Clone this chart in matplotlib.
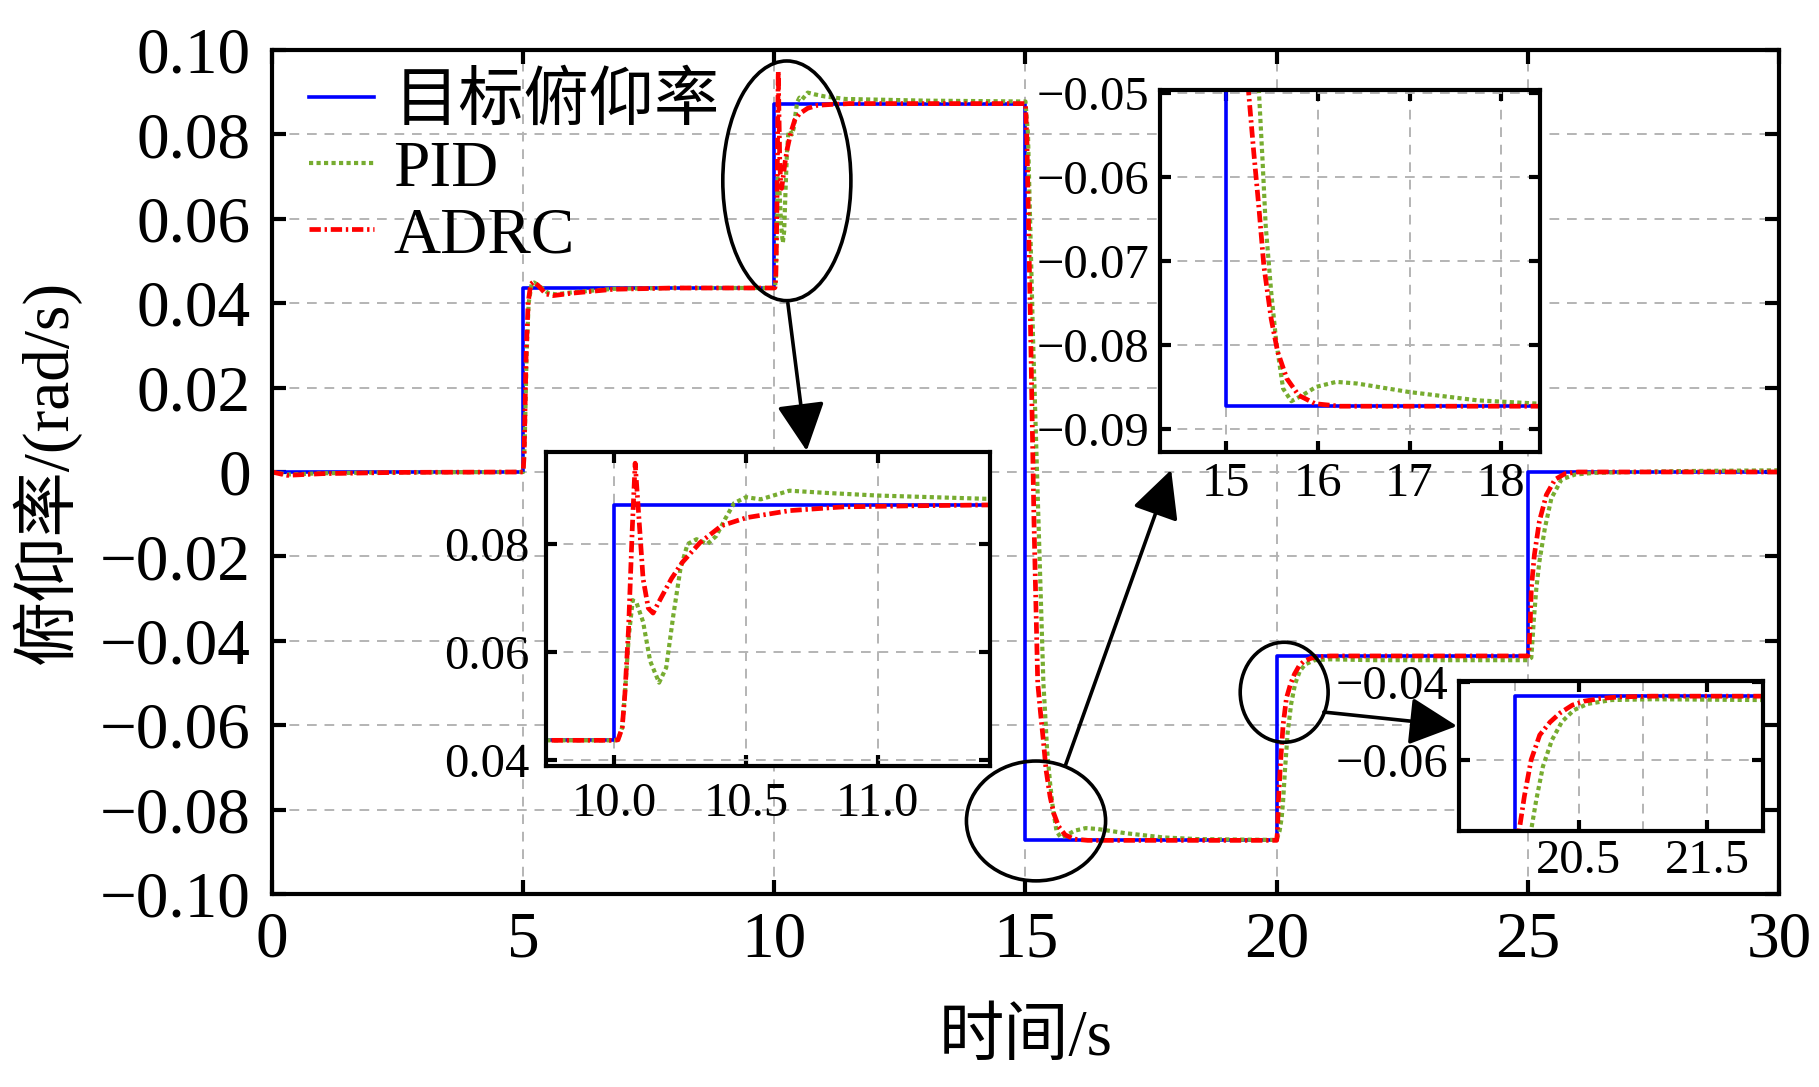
import numpy as np
import matplotlib
matplotlib.use('Agg')
import matplotlib.pyplot as plt
from matplotlib.patches import Ellipse

plt.rcParams['font.family'] = ['Liberation Serif', 'Noto Sans CJK SC']
plt.rcParams['axes.unicode_minus'] = True

# target pitch rate (step reference)
ref_t = [0, 5, 10, 15, 20, 25, 30]
ref_y = [0.0, 0.0436, 0.0873, -0.0873, -0.0436, 0.0, 0.0]

# ADRC response
adrc_t = [0.0, 0.3, 1.0, 2.5, 5.0, 5.02, 5.06, 5.1, 5.15, 5.2, 5.3, 5.45, 5.6, 6.0, 6.8, 8.0,
          10.0, 10.014, 10.03, 10.04, 10.054, 10.068, 10.079, 10.092, 10.109, 10.129, 10.147,
          10.176, 10.217, 10.258, 10.326, 10.407, 10.502, 10.665, 10.868, 11.14, 11.5,
          15.0, 15.03, 15.1, 15.17, 15.244, 15.30, 15.357, 15.41, 15.49, 15.56, 15.66, 15.79,
          15.97, 16.24, 20.0, 20.015, 20.035, 20.075, 20.128, 20.195, 20.275, 20.355, 20.45,
          20.54, 20.67, 20.81, 21.07, 25.0, 25.02, 25.05, 25.07, 25.13, 25.23, 25.37, 25.54,
          25.74, 26.0, 30.0]
adrc_y = [0.0, -0.0008, -0.0004, -0.0001, 0.0, 0.004, 0.028, 0.040, 0.0445, 0.0450, 0.0442,
          0.0422, 0.0418, 0.0424, 0.0433, 0.0436,
          0.0436, 0.0437, 0.046, 0.0522, 0.0644, 0.0828, 0.0950, 0.0858, 0.0736, 0.0681, 0.0672,
          0.0699, 0.0736, 0.0766, 0.0803, 0.0834, 0.0849, 0.0862, 0.0869, 0.0871, 0.0873,
          0.0873, 0.078, 0.035, -0.012, -0.050, -0.0571, -0.0638, -0.0706, -0.0769, -0.0808,
          -0.0840, -0.0860, -0.0870, -0.0873, -0.0873, -0.0855, -0.0781, -0.0694, -0.0600,
          -0.0536, -0.0503, -0.0479, -0.0459, -0.0449, -0.0442, -0.0438, -0.0436, -0.0436,
          -0.0430, -0.035, -0.0276, -0.0197, -0.0117, -0.0054, -0.0018, -0.0004, 0.0, 0.0]

# PID response
pid_t = [0.0, 0.3, 1.0, 2.5, 5.0, 5.03, 5.07, 5.11, 5.17, 5.22, 5.32, 5.5, 5.65, 6.0, 6.8, 8.0,
         10.0, 10.014, 10.03, 10.04, 10.055, 10.07, 10.085, 10.109, 10.136, 10.17, 10.197,
         10.224, 10.251, 10.278, 10.312, 10.353, 10.387, 10.42, 10.455, 10.50, 10.556, 10.665,
         10.80, 11.0, 11.41, 13.0, 15.0, 15.05, 15.15, 15.25, 15.357, 15.395, 15.43, 15.49,
         15.545, 15.62, 15.71, 15.83, 15.98, 16.2, 16.43, 16.99, 17.74, 18.42, 20.0, 20.06,
         20.1, 20.128, 20.168, 20.22, 20.29, 20.368, 20.461, 20.568, 20.755, 21.07, 21.93,
         25.0, 25.07, 25.12, 25.17, 25.23, 25.34, 25.47, 25.67, 25.94, 26.34, 28.0, 30.0]
pid_y = [0.0, -0.0006, -0.0003, -0.0001, 0.0, 0.006, 0.028, 0.040, 0.0446, 0.0449, 0.0441,
         0.0424, 0.0421, 0.0426, 0.0434, 0.0436,
         0.0436, 0.0437, 0.046, 0.0522, 0.0630, 0.0696, 0.0690, 0.0656, 0.0583, 0.0543, 0.0571,
         0.0668, 0.0754, 0.0800, 0.0809, 0.0800, 0.0815, 0.0846, 0.0876, 0.0887, 0.0883, 0.0899,
         0.0895, 0.0890, 0.0884, 0.0880, 0.0878, 0.080, 0.032, -0.008, -0.050, -0.0579, -0.0658,
         -0.0737, -0.0796, -0.0852, -0.0867, -0.0860, -0.0850, -0.0844, -0.0846, -0.0856,
         -0.0866, -0.0870, -0.0872, -0.0850, -0.0820, -0.0781, -0.0703, -0.0617, -0.0549,
         -0.0502, -0.0472, -0.0456, -0.0446, -0.0444, -0.0446,
         -0.0446, -0.0440, -0.035, -0.0276, -0.0213, -0.0133, -0.0062, -0.0018, -0.0006,
         -0.0002, 0.0002, 0.0004]

labels = ['目标俯仰率', 'PID', 'ADRC']

xt_main = [0, 5, 10, 15, 20, 25, 30]
yt_main = [0.10, 0.08, 0.06, 0.04, 0.02, 0.0, -0.02, -0.04, -0.06, -0.08, -0.10]


def fmt(v, nd=2):
    if abs(v) < 1e-9:
        return '0'
    return ('%.*f' % (nd, v)).replace('-', '\u2212')


def style(ax, size, pad_x, pad_y, tl):
    ax.tick_params(which='both', direction='in', top=True, right=True, labelsize=size,
                   length=tl, width=3)
    ax.tick_params(axis='x', pad=pad_x)
    ax.tick_params(axis='y', pad=pad_y)
    for s in ax.spines.values():
        s.set_linewidth(3)
    ax.grid(True, which='both', ls=(0, (5, 4)), color='#b4b4b4', lw=1.4)
    ax.set_axisbelow(True)


def curves(ax):
    ax.plot(ref_t, ref_y, drawstyle='steps-post', color='#0000ff', lw=2.6, label=labels[0])
    ax.plot(pid_t, pid_y, color='#77ac30', lw=3.0, ls=(0, (1, 0.8)), label=labels[1])
    ax.plot(adrc_t, adrc_y, color='#ff0000', lw=3.4, ls=(0, (2.4, 0.8, 0.5, 0.8)), label=labels[2])


fig = plt.figure(figsize=(18.19, 10.87), dpi=100)
ax = fig.add_axes([0.1495, 0.1776, 0.8285, 0.7764])
curves(ax)
ax.set_xlim(0, 30)
ax.set_ylim(-0.10, 0.10)
ax.set_xticks(xt_main)
ax.set_xticklabels([str(v) for v in xt_main])
ax.set_yticks(yt_main)
ax.set_yticklabels([fmt(v) for v in yt_main])
style(ax, 47, 12, 15, 10)
ax.set_xlabel('时间/s', fontsize=47, labelpad=28)
ax.set_ylabel('俯仰率/(rad/s)', fontsize=47, labelpad=14)
ax.legend(loc='upper left', bbox_to_anchor=(0.02, 0.98), frameon=False, fontsize=47,
          handlelength=1.0, handletextpad=0.3, labelspacing=0.1, borderpad=0.1,
          borderaxespad=0)

# zoom circles and arrows
for c in [(10.25, 0.069, 2.55, 0.0568), (15.21, -0.0827, 2.77, 0.0284), (20.15, -0.0522, 1.75, 0.0237)]:
    ax.add_patch(Ellipse((c[0], c[1]), c[2], c[3], fill=False, ec='k', lw=2.6, zorder=6))
for a in [((10.27, 0.040), (10.645, 0.005)), ((15.79, -0.0697), (17.9, 0.0005)),
          ((20.94, -0.0569), (23.59, -0.0602))]:
    ax.annotate('', xy=a[1], xytext=a[0],
                arrowprops=dict(arrowstyle='-|>,head_length=0.4,head_width=0.2', color='k',
                                lw=2.6, mutation_scale=74, shrinkA=0, shrinkB=0), zorder=6)

# inset 1 : step at 10 s
ax1 = fig.add_axes([0.3004, 0.2956, 0.2436, 0.2882])
curves(ax1)
ax1.set_xlim(9.742, 11.425)
ax1.set_ylim(0.0389, 0.0970)
ax1.set_xticks([10.0, 10.5, 11.0])
ax1.set_xticklabels(['10.0', '10.5', '11.0'])
ax1.set_yticks([0.04, 0.06, 0.08])
ax1.set_yticklabels(['0.04', '0.06', '0.08'])
style(ax1, 35, 12, 12, 8)

# inset 2 : step at 15 s
ax2 = fig.add_axes([0.6378, 0.5838, 0.2086, 0.3330])
curves(ax2)
ax2.set_xlim(14.278, 18.42)
ax2.set_ylim(-0.0928, -0.0497)
ax2.set_xticks([15, 16, 17, 18])
ax2.set_xticklabels(['15', '16', '17', '18'])
yt2 = [-0.05, -0.06, -0.07, -0.08, -0.09]
ax2.set_yticks(yt2)
ax2.set_yticklabels([fmt(v) for v in yt2])
style(ax2, 35, 7, 8, 8)

# inset 3 : step at 20 s
ax3 = fig.add_axes([0.8023, 0.2359, 0.1671, 0.1376])
curves(ax3)
ax3.set_xlim(19.568, 21.94)
ax3.set_ylim(-0.0782, -0.0397)
ax3.set_xticks([20.5, 21.5])
ax3.set_xticklabels(['20.5', '21.5'])
ax3.set_xticks([20.0, 21.0], minor=True)
ax3.set_yticks([-0.04, -0.06])
ax3.set_yticklabels([fmt(v) for v in [-0.04, -0.06]])
style(ax3, 35, 6, 8, 8)
ax3.tick_params(which='minor', length=0)

fig.savefig('out.png', dpi=100)
